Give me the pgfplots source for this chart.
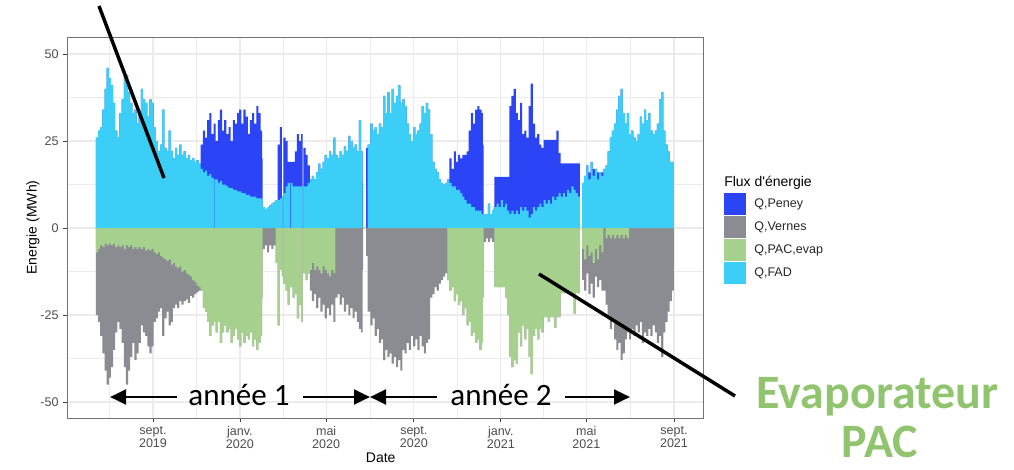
\documentclass[border=0pt]{standalone}
\usepackage{fontspec}
\setmainfont{Liberation Sans}
\newfontfamily\calibri{Carlito}
\usepackage{pgfplots}
\usepackage{pgfplotstable}
\pgfplotsset{compat=1.18}
\usetikzlibrary{arrows.meta}
\definecolor{cPeney}{RGB}{43,68,246}
\definecolor{cFAD}{RGB}{59,207,248}
\definecolor{cVernes}{RGB}{139,139,146}
\definecolor{cPAC}{RGB}{166,208,141}
\definecolor{cText}{RGB}{145,196,110}
\definecolor{cGrid}{RGB}{235,235,235}
\definecolor{cTick}{RGB}{77,77,77}

% d = days since 2019-09-01 ; values in MWh
\pgfplotstableread{
d fad pen pac ver
-80 26 0 -7 -18
-77 28 0 -6 -21
-74 29 0 -5 -26
-71 34 0 -5.5 -30.5
-68 40 0 -4.5 -36.5
-65 46 0 -5 -40
-62 43 0 -4.5 -38.5
-59 41 0 -5 -35
-56 36 0 -4.5 -30.5
-53 28 0 -5.5 -24.5
-50 26 0 -5 -22
-47 33 0 -5.5 -23.5
-44 37 0 -5 -28
-41 45 0 -6 -34
-38 44 0 -5 -40
-35 39 0 -5.5 -35.5
-32 36 0 -5 -32
-29 33 0 -6 -27
-26 34 0 -5.5 -32.5
-23 30 0 -6 -30
-20 33 0 -5.5 -27.5
-17 40 0 -6 -22
-14 37 0 -5.5 -24.5
-11 36 0 -6.5 -24.5
-8 32 0 -6 -28
-5 37 0 -6.5 -29.5
-2 36 0 -6 -28
1 29 0 -7 -20
4 25 0 -7.5 -18.5
7 22 0 -7 -17
10 24 0 -8 -15
13 34 0 -8.5 -22.5
16 23 0 -9 -17
19 22 0 -9.5 -14.5
22 28 0 -9 -19
25 22 0 -10.5 -16.5
28 20 0 -10 -13
31 23 0 -11 -11
34 21 0 -11.5 -11.5
37 24 0 -11 -10
40 21 0 -12.5 -9.5
43 22 0 -12 -9
46 20 0 -13 -7.5
49 21 0 -13.5 -8
52 19.5 0 -14 -5.5
55 20 0 -15 -5
58 19 0 -15.5 -3.5
61 19.5 0 -16.5 -2
64 18.5 0 -17 -1
67 17 7 -18 0
70 16 12 -23 0
73 16.5 9.5 -24 0
76 15 16 -27 0
79 15.5 17.5 -31 0
82 14.5 12.5 -28 0
85 14 16 -27 0
86 0 30 -27 0
87 14 16 -27 0
88 14 11 -30 0
91 13 18 -27 0
94 13.5 20.5 -33 0
97 12.5 15.5 -30 0
100 12.5 18.5 -28 0
103 12 15 -30 0
106 11.5 17.5 -29 0
109 11.5 13.5 -33 0
112 11 20 -31 0
115 11 19 -29 0
118 10.5 22.5 -32 0
121 10.5 23.5 -34 0
124 10 20 -30 0
127 10 24 -33 0
130 9.5 22.5 -31 0
133 9.5 17.5 -32 0
136 9 22 -30 0
139 9 24 -34 0
142 9 21 -32 0
145 8.5 26.5 -35 0
148 8.5 24.5 -33 0
151 8.5 19.5 -31 0
153 8 12 -20 0
154 6 0 0 -6
157 5.5 0 0 -5
160 6 0 0 -7
163 6.5 0 0 -5
166 7 0 0 -6
169 7.5 0 0 -5
172 8 0 -10 0
175 8 16 -28 0
178 8.5 20.5 -12 0
181 9 0 -14 0
182 0 0 0 0
183 10 16 -16 0
186 12 13 -18 0
189 13 6 -22 0
192 0 19 -17 0
193 13 6 -17 0
196 12 7 -20 0
199 12 10 -19 0
202 12 15 -26 0
205 12 13 -22 0
208 12 15 -27 0
210 0 0 0 0
211 12 11 -13 0
214 12 9 -15 0
217 13 5 -13 0
220 14 0 -12 -6
223 15 0 -10 -11
226 14 0 -12 -7
229 16 0 -11 -12
232 18.5 0 -12 -8
235 17 0 -13 -11
238 19 0 -11 -11
241 21 0 -12 -14
244 20 0 -13 -10
247 22 0 -14 -11
250 21 0 -12 -10
253 26 0 -13 -14
256 21 0 0 -20
259 20 0 0 -19
262 22 0 0 -22
265 21 0 0 -20
268 23.5 0 0 -24
271 22 0 0 -22
274 26.5 0 0 -25
277 25 0 0 -23
280 23 0 0 -26
283 24 0 0 -24
286 22 0 0 -27
289 31 0 0 -29
292 22 0 0 -30
294 0 13 0 -12
295 0 0 0 0
299 0 23 0 -8
301 24 0 0 -24
305 30 0 0 -28
308 28 0 0 -26
311 29 0 0 -31
314 27 0 0 -29
317 30 0 0 -33
320 29 0 0 -32
323 38 0 0 -38
326 33 0 0 -35
329 39 0 0 -37
332 33 0 0 -36
335 40 0 0 -39
338 36 0 0 -37
341 38 0 0 -40
344 41 0 0 -38
347 36 0 0 -41
350 37 0 0 -35
353 35 0 0 -36
356 30 0 0 -33
359 27 0 0 -35
362 25 0 0 -31
365 29 0 0 -34
368 27 0 0 -32
371 28 0 0 -35
374 30 0 0 -31
377 35 0 0 -34
380 33 0 0 -36
383 36 0 0 -33
386 34 0 0 -32
389 27 0 0 -20
392 19 0 0 -19
395 17 0 0 -17
398 16 0 0 -18
401 14 0 0 -16
404 13 0 0 -15
407 12.5 0 0 -14
410 13 0 0 -13
413 14 0 -15 0
416 13 7 -18 0
419 12 5 -17 0
422 12 10 -21 0
425 11 8 -19 0
428 11 10 -22 0
431 10 10 -21 0
434 9 12 -25 0
437 8 13 -23 0
440 7 15 -28 0
443 7 21 -27 0
446 6 27 -31 0
449 6 24 -30 0
452 5 29 -33 0
455 5 30 -32 0
458 5 29 -35 0
461 4 29 -33 0
463 4 20 -20 0
464 4 0 0 -4
467 4 0 0 -3
470 7 0 0 -4
473 4 0 0 -3
476 5 0 0 -4
478 6 0 0 -4
479 6 8.7 -17 0
482 7 7.7 -17 0
485 6 8.7 -17 0
488 8 6.7 -17 0
491 6 8.7 -17 0
494 7 7.7 -20 0
497 5 9.7 -25 0
500 4 31 -37 0
503 5 33 -40 0
506 4 36 -38 0
509 5 28 -39 0
512 4 27 -30 0
515 6 30 -34 0
518 5 22 -28 0
521 6 22 -32 0
524 5 21 -29 0
527 3 32 -37 0
530 4 37.5 -42 0
533 6 24 -31 0
536 5 21 -29 0
539 6 21 -32 0
542 7 17 -29 0
545 6 17 -30 0
548 8 17.3 -25.6 0
551 7 18.3 -25.6 0
554 8 17.3 -27 0
557 7 18.3 -25.6 0
560 9 16.3 -25.6 0
563 8 17.3 -28.7 0
566 9 19 -25.6 0
569 10 11.5 -25.6 0
572 9 9.6 -18.7 0
575 10 8.6 -18.7 0
578 9 9.6 -18.7 0
581 11 7.6 -18.7 0
584 10 8.6 -18.7 0
587 12 6.6 -18.7 0
590 11 7.6 -24.7 0
593 10 8.6 -18.7 0
596 9 9.6 -18.7 0
598 9 9.6 -18.7 0
599 0 0 0 0
601 0 0 0 0
602 13 0 -6 -9
605 15 0 -9 -9
608 18 0 -5 -8
611 14 2 -8 -11
614 19 0 -7 -9
617 15 2 -10 -10
620 17 0 -6 -8
623 14 2 -9 -8
626 16 0 -5 -10
629 15 1 -7 -11
632 17 0 0 -18
635 18 0 -3 -19
638 22 0 -2 -23
641 26 0 -3 -26
644 28 0 -2 -25
647 30 0 -3 -29
650 34 0 -2 -33
653 38 0 -3 -30
656 40 0 -2 -36
659 33 0 -3 -33
662 30 0 -2 -30
665 33 0 -3 -27
668 27 0 0 -32
671 28 0 0 -29
674 26 0 0 -31
677 25 0 0 -28
680 27 0 0 -30
683 32 0 0 -27
686 30 0 0 -33
689 34 0 0 -30
692 31 0 0 -31
695 33 0 0 -29
698 28 0 0 -31
701 27 0 0 -28
704 28 0 0 -30
707 30 0 0 -33
710 37 0 0 -31
713 39 0 0 -37
716 28 0 0 -30
719 24 0 0 -27
722 22 0 0 -24
725 19 0 0 -21
728 19 0 0 -18
731 19 0 0 -18
}\flux

\begin{document}
\begin{tikzpicture}
\path[use as bounding box] (0,0) rectangle (760.5pt,351.75pt);
\begin{axis}[
  at={(50.475pt,38.25pt)}, anchor=south west,
  scale only axis, width=476.775pt, height=285.75pt,
  xmin=-120.2, xmax=771.7, ymin=-54.6, ymax=54.9,
  xtick={0,122,243,366,488,608,731},
  xticklabels={{sept.\\2019},{janv.\\2020},{mai\\2020},{sept.\\2020},{janv.\\2021},{mai\\2021},{sept.\\2021}},
  minor xtick={-61.5,61,182.5,304.5,427,548,669.5},
  ytick={-50,-25,0,25,50}, yticklabels={-50,-25,0,25,50},
  minor ytick={-37.5,-12.5,12.5,37.5},
  grid=both,
  major grid style={cGrid, line width=0.9pt},
  minor grid style={cGrid, line width=0.45pt},
  axis line style={black!55, line width=0.75pt},
  tick pos=left, tick align=outside,
  major tick length=3pt, minor tick length=0pt,
  tick style={black!75, line width=0.6pt},
  ticklabel style={font=\fontsize{9.4}{9.3}\selectfont, text=cTick},
  xticklabel style={align=center},
  xlabel={Date}, ylabel={Energie (MWh)},
  label style={font=\fontsize{10.5}{12}\selectfont},
  xlabel style={at={(axis description cs:0.493,-0.105)}, anchor=center},
  ylabel style={at={(axis description cs:-0.054,0.5)}, anchor=center},
]
\addplot[const plot, fill=cPeney, draw=none] table[x=d, y expr=\thisrow{fad}+\thisrow{pen}] {\flux} \closedcycle;
\addplot[const plot, fill=cFAD, draw=none] table[x=d, y=fad] {\flux} \closedcycle;
\addplot[const plot, fill=cVernes, draw=none] table[x=d, y expr=\thisrow{pac}+\thisrow{ver}] {\flux} \closedcycle;
\addplot[const plot, fill=cPAC, draw=none] table[x=d, y=pac] {\flux} \closedcycle;
\end{axis}
\begin{scope}[x=0.75pt,y=0.75pt]
% legend
\node[anchor=base west, inner sep=0pt, font=\fontsize{10.5}{12}\selectfont] at (724,283) {Flux d\textquotesingle énergie};
\fill[cPeney] (724,254) rectangle (746,276);
\fill[cVernes] (724,231) rectangle (746,253);
\fill[cPAC] (724,208) rectangle (746,230);
\fill[cFAD] (724,185) rectangle (746,207);
\begin{scope}[every node/.style={anchor=west, inner sep=0pt, font=\fontsize{9.4}{11}\selectfont, text=black!85}]
\node at (754,265) {Q,Peney};
\node at (754,242) {Q,Vernes};
\node at (754,219) {Q,PAC,evap};
\node at (754,196) {Q,FAD};
\end{scope}
% annotations
\draw[line width=2.6pt] (99,463) -- (164,291);
\draw[line width=2.6pt] (539,195) -- (735,73);
\draw[line width=2.2pt, -{Triangle[length=12pt,width=11pt]}] (177,72) -- (110,72);
\draw[line width=2.2pt, -{Triangle[length=12pt,width=11pt]}] (303,72) -- (370,72);
\draw[line width=2.2pt, -{Triangle[length=12pt,width=11pt]}] (437,72) -- (370,72);
\draw[line width=2.2pt, -{Triangle[length=12pt,width=11pt]}] (565,72) -- (630,72);
\node[anchor=base, inner sep=0pt, font=\calibri\fontsize{23.3}{25}\selectfont] at (239,64) {année 1};
\node[anchor=base, inner sep=0pt, font=\calibri\fontsize{23.3}{25}\selectfont] at (501,64) {année 2};
\node[anchor=base, inner sep=0pt, text=cText, font=\calibri\bfseries\fontsize{36}{38}\selectfont] at (877.5,61) {Evaporateur};
\node[anchor=base, inner sep=0pt, text=cText, font=\calibri\bfseries\fontsize{36}{38}\selectfont] at (880,12) {PAC};
\end{scope}
\end{tikzpicture}
\end{document}
